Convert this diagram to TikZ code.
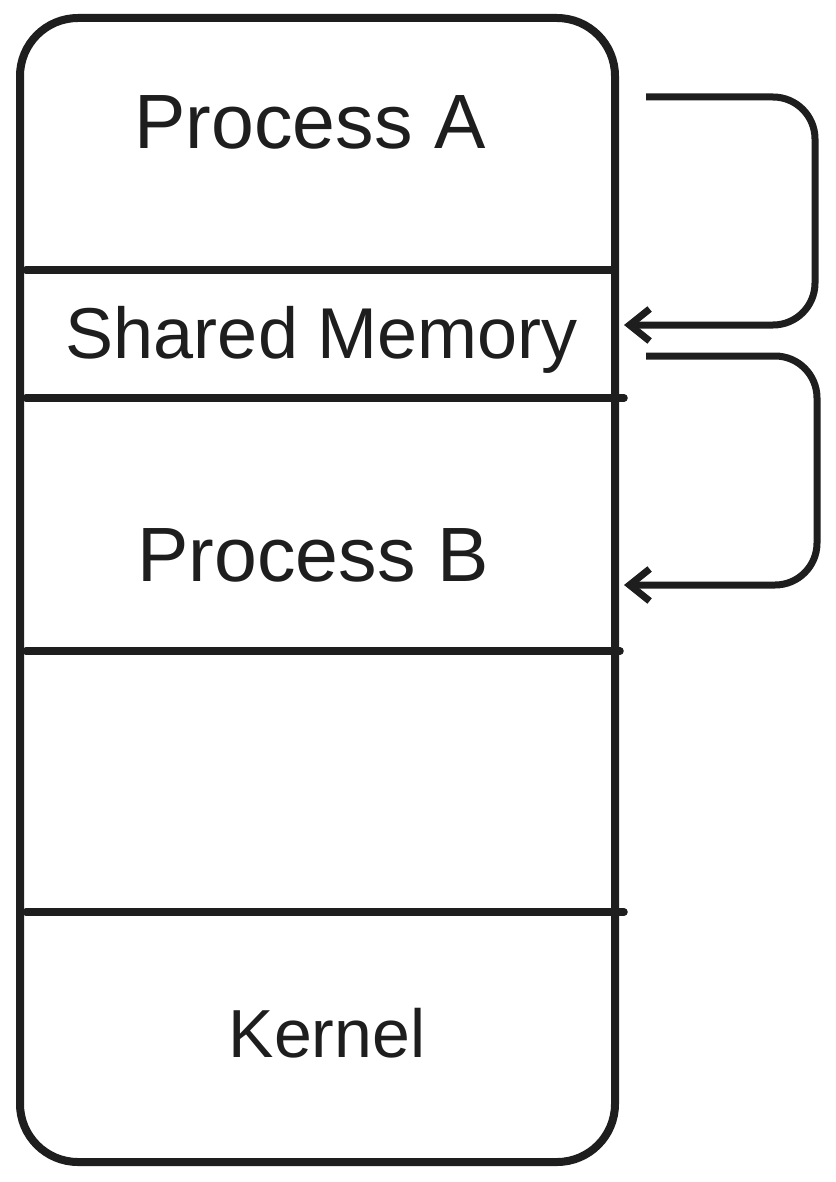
\documentclass[tikz,border=0pt]{standalone}
\usepackage{fontspec}
\setmainfont{Liberation Sans}
\usetikzlibrary{arrows.meta}
\definecolor{ink}{HTML}{1E1E1E}
\begin{document}
\begin{tikzpicture}[x=1pt,y=-1pt,
  edge/.style={draw=ink,line width=8pt,line cap=round},
  sep/.style={draw=ink,line width=7.5pt,line cap=round},
  lbl/.style={text=ink,anchor=base,inner sep=0pt},
  big/.style={font=\fontsize{77}{84}\selectfont},
  mid/.style={font=\fontsize{72}{80}\selectfont},
  small/.style={font=\fontsize{68}{76}\selectfont},
  arr/.style={draw=ink,line width=7pt,rounded corners=42pt,
    -{Straight Barb[length=20pt,width=32pt,line width=7pt]}}]
\useasboundingbox (0,0) rectangle (835,1182);
\fill[white] (0,0) rectangle (835,1182);
% outer box
\draw[edge,rounded corners=58pt] (20,18) rectangle (615,1162);
% separators
\draw[sep] (26,270) -- (612,270);
\draw[sep] (26,398) -- (624,398);
\draw[sep] (26,651) -- (620,651);
\draw[sep] (26,912) -- (624,912);
% labels
\node[lbl,big] (pa) at (310,149) {Process A};
\node[lbl,mid] (sm) at (322,358) {Shared Memory};
\node[lbl,big] (pb) at (313,581) {Process B};
\node[lbl,small] (kn) at (327,1057) {Kernel};
% arrow 1
\coordinate (a1s) at (646,97);
\coordinate (a1c) at (815,97);
\coordinate (a1d) at (815,325);
\coordinate (a1e) at (624,325);
\draw[arr] (a1s) -- (a1c) -- (a1d) -- (a1e);
% arrow 2
\coordinate (a2s) at (646,356);
\coordinate (a2c) at (817,356);
\coordinate (a2d) at (817,585);
\coordinate (a2e) at (624,585);
\draw[arr] (a2s) -- (a2c) -- (a2d) -- (a2e);
\end{tikzpicture}
\end{document}
